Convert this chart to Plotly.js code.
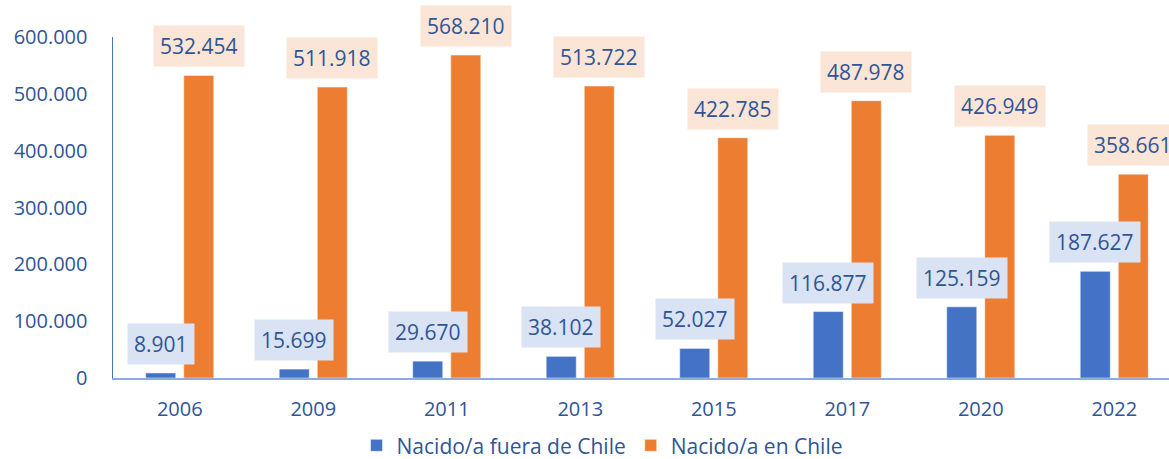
<!DOCTYPE html>
<html>
<head>
<meta charset="utf-8">
<script src="https://cdn.plot.ly/plotly-3.0.1.min.js"></script>
<style>html,body{margin:0;padding:0;background:#fff;overflow:hidden}#chart{width:1169px;height:459px}</style>
</head>
<body>
<div id="chart"></div>
<script>
const years = ["2006", "2009", "2011", "2013", "2015", "2017", "2020", "2022"];
const fueraChile = [8901, 15699, 29670, 38102, 52027, 116877, 125159, 187627];
const enChile = [532454, 511918, 568210, 513722, 422785, 487978, 426949, 358661];
const seriesNames = ["Nacido/a fuera de Chile", "Nacido/a en Chile"];
const yTicks = [0, 100000, 200000, 300000, 400000, 500000, 600000];

const textColor = "#2F5597";
const font = "Open Sans, sans-serif";

function fmt(v) {
  const s = String(v);
  const parts = [];
  for (let i = s.length; i > 0; i -= 3) parts.unshift(s.slice(Math.max(0, i - 3), i));
  return parts.join(".");
}

const traces = [
  {type: "bar", name: seriesNames[0], x: years, y: fueraChile,
   marker: {color: "#4472C4", line: {color: "rgba(255,255,255,0.5)", width: 1}}, hoverinfo: "none"},
  {type: "bar", name: seriesNames[1], x: years, y: enChile,
   marker: {color: "#ED7D31", line: {color: "rgba(255,255,255,0.5)", width: 1}}, hoverinfo: "none"}
];

const annos = [];
for (let i = 0; i < years.length; i++) {
  annos.push({x: i, y: fueraChile[i], xref: "x", yref: "y", text: fmt(fueraChile[i]),
    showarrow: false, yanchor: "bottom", xanchor: "center", xshift: -19, yshift: 8, bgcolor: "#DAE3F3",
    borderpad: 6, font: {family: font, size: 21, color: textColor}});
  annos.push({x: i, y: enChile[i], xref: "x", yref: "y", text: fmt(enChile[i]),
    showarrow: false, yanchor: "bottom", xanchor: "center", xshift: 19, yshift: 8, bgcolor: "#FBE5D6",
    borderpad: 6, font: {family: font, size: 21, color: textColor}});
}

const layout = {
  width: 1169, height: 459,
  margin: {l: 113, r: 0, t: 37, b: 81},
  paper_bgcolor: "#fff", plot_bgcolor: "#fff",
  barmode: "group", bargap: 0.43, bargroupgap: 0.21,
  showlegend: true,
  legend: {orientation: "h", x: 0.515, xref: "container", xanchor: "center", y: 0.029, yref: "container", yanchor: "middle",
    font: {family: font, size: 21, color: textColor}, traceorder: "normal"},
  xaxis: {type: "category", range: [-0.5, 7.41], showgrid: false, showline: true,
    linecolor: "#8FAADC", linewidth: 2, ticks: "", zeroline: false, automargin: false,
    ticklabelstandoff: 12,
    tickfont: {family: font, size: 20, color: textColor}},
  yaxis: {range: [0, 600000], tickvals: yTicks, tickformat: ",", showgrid: false,
    showline: true, linecolor: "#4472C4", linewidth: 1.5, zeroline: false, ticks: "",
    ticklabelstandoff: 20, automargin: false, separatethousands: true,
    tickfont: {family: font, size: 20, color: textColor}},
  separators: ",.",
  annotations: annos,
  font: {family: font}
};

Plotly.newPlot("chart", traces, layout, {displayModeBar: false, staticPlot: true});
</script>
</body>
</html>
